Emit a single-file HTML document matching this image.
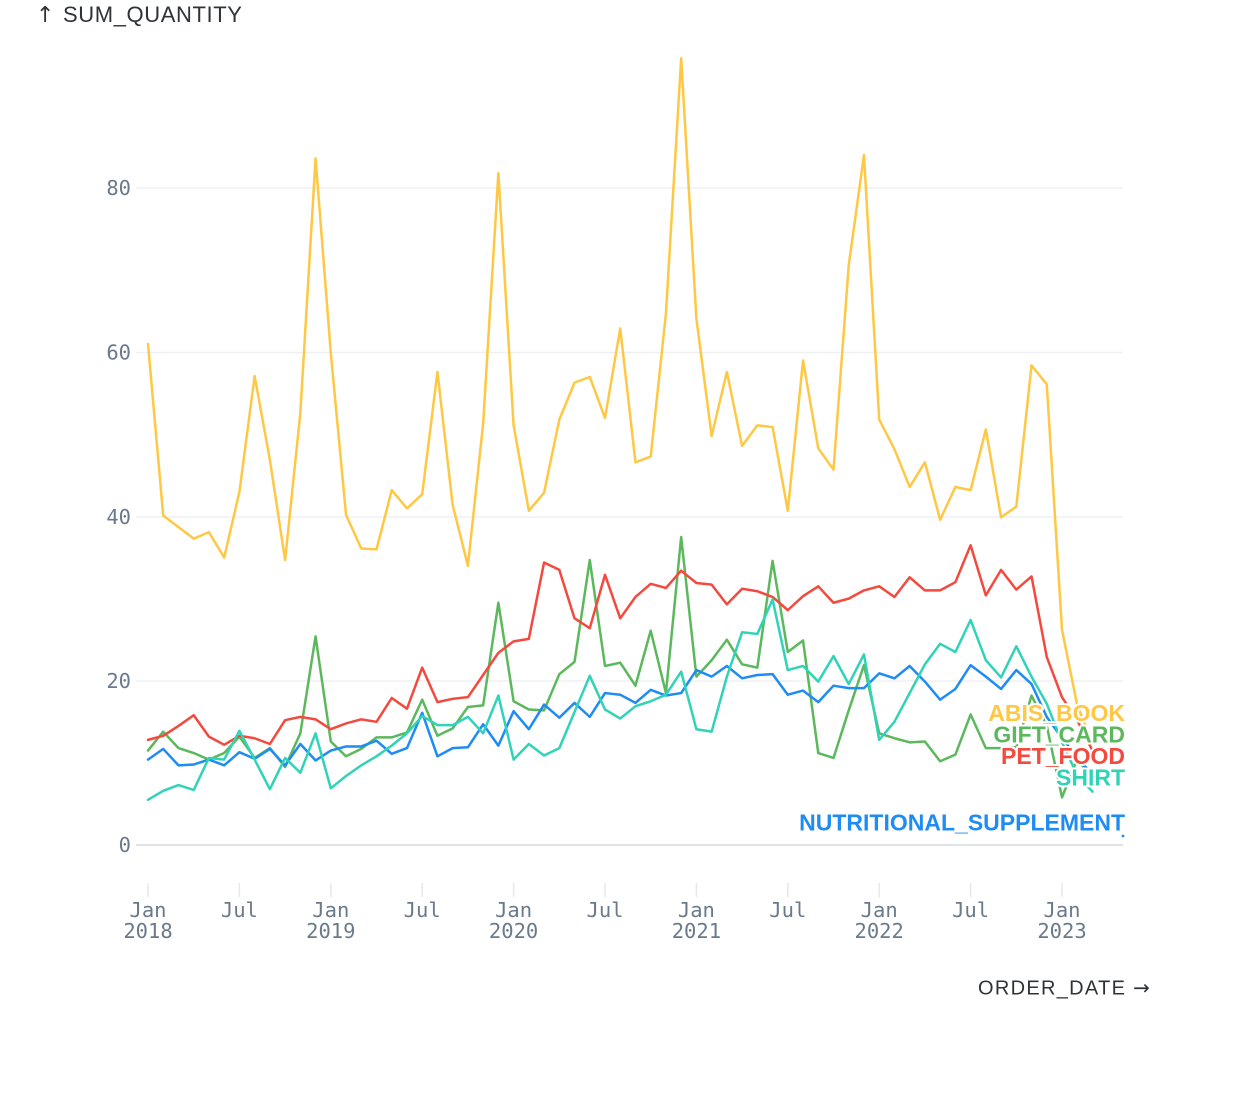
<!DOCTYPE html>
<html>
<head>
<meta charset="utf-8">
<style>
  html, body { margin: 0; padding: 0; background: #ffffff; }
  body { width: 1258px; height: 1103px; overflow: hidden; }
  svg { display: block; }
  .tick { font-family: "DejaVu Sans Mono", "Liberation Mono", monospace; font-size: 20.5px; fill: #6a7a8c; }
  .title { font-family: "Liberation Sans", sans-serif; fill: #2f3337; }
  .arr { font-family: "DejaVu Sans", sans-serif; }
  .lab { font-family: "Liberation Sans", sans-serif; font-weight: bold; font-size: 23px; text-anchor: end;
         stroke: #ffffff; stroke-width: 4; paint-order: stroke; stroke-linejoin: round; }
  .series { fill: none; stroke-width: 2.5; stroke-linejoin: round; stroke-linecap: round; vector-effect: non-scaling-stroke; }
</style>
</head>
<body>
<svg width="1258" height="1103" viewBox="0 0 1258 1103" xmlns="http://www.w3.org/2000/svg">
  <!-- grid -->
  <g stroke="#eef0f2" stroke-width="1.5">
    <line x1="136" y1="188" x2="1123" y2="188"/>
    <line x1="136" y1="352.5" x2="1123" y2="352.5"/>
    <line x1="136" y1="517" x2="1123" y2="517"/>
    <line x1="136" y1="681" x2="1123" y2="681"/>
  </g>
  <line x1="136" y1="845" x2="1123" y2="845" stroke="#dfe2e6" stroke-width="2"/>

  <!-- y tick labels -->
  <g class="tick" text-anchor="end">
    <text x="131" y="195">80</text>
    <text x="131" y="359.5">60</text>
    <text x="131" y="524">40</text>
    <text x="131" y="688">20</text>
    <text x="131" y="852">0</text>
  </g>

  <!-- x ticks -->
  <g stroke="#e6e8eb" stroke-width="1.5">
    <line x1="148" y1="883" x2="148" y2="897"/>
    <line x1="239.4" y1="883" x2="239.4" y2="897"/>
    <line x1="330.8" y1="883" x2="330.8" y2="897"/>
    <line x1="422.2" y1="883" x2="422.2" y2="897"/>
    <line x1="513.6" y1="883" x2="513.6" y2="897"/>
    <line x1="605" y1="883" x2="605" y2="897"/>
    <line x1="696.4" y1="883" x2="696.4" y2="897"/>
    <line x1="787.8" y1="883" x2="787.8" y2="897"/>
    <line x1="879.2" y1="883" x2="879.2" y2="897"/>
    <line x1="970.6" y1="883" x2="970.6" y2="897"/>
    <line x1="1062" y1="883" x2="1062" y2="897"/>
  </g>
  <g class="tick" text-anchor="middle">
    <text x="148" y="917">Jan</text><text x="148" y="938">2018</text>
    <text x="239.4" y="917">Jul</text>
    <text x="330.8" y="917">Jan</text><text x="330.8" y="938">2019</text>
    <text x="422.2" y="917">Jul</text>
    <text x="513.6" y="917">Jan</text><text x="513.6" y="938">2020</text>
    <text x="605" y="917">Jul</text>
    <text x="696.4" y="917">Jan</text><text x="696.4" y="938">2021</text>
    <text x="787.8" y="917">Jul</text>
    <text x="879.2" y="917">Jan</text><text x="879.2" y="938">2022</text>
    <text x="970.6" y="917">Jul</text>
    <text x="1062" y="917">Jan</text><text x="1062" y="938">2023</text>
  </g>

  <!-- axis titles -->
  <text class="title" x="36" y="22" font-size="22"><tspan class="arr">↑</tspan><tspan x="63" letter-spacing="0.6">SUM_QUANTITY</tspan></text>
  <text class="title" x="978" y="994.5" font-size="20" letter-spacing="1.3">ORDER_DATE <tspan class="arr" letter-spacing="0">→</tspan></text>

  <!-- series -->
  <g transform="translate(148,845) scale(15.2333,-8.2125)">
    <polyline class="series" stroke="#ffc844" points="0,61.0 1,40.1 2,38.7 3,37.3 4,38.1 5,35.0 6,43.0 7,57.1 8,46.9 9,34.7 10,52.6 11,83.6 12,59.9 13,40.2 14,36.1 15,36.0 16,43.2 17,41.0 18,42.7 19,57.6 20,41.4 21,34.0 22,51.3 23,81.8 24,51.1 25,40.7 26,42.9 27,51.8 28,56.3 29,57.0 30,52.0 31,62.9 32,46.6 33,47.3 34,64.7 35,95.8 36,64.1 37,49.8 38,57.6 39,48.6 40,51.1 41,50.9 42,40.7 43,59.0 44,48.3 45,45.7 46,70.6 47,84.0 48,51.8 49,48.2 50,43.6 51,46.6 52,39.6 53,43.6 54,43.2 55,50.6 56,39.9 57,41.2 58,58.4 59,56.1 60,26.2 61,17.0 62,12.5"/>
    <polyline class="series" stroke="#5cb85c" points="0,11.5 1,13.8 2,11.8 3,11.2 4,10.4 5,11.2 6,13.2 7,10.6 8,11.8 9,9.5 10,13.6 11,25.4 12,12.6 13,10.8 14,11.7 15,13.1 16,13.1 17,13.7 18,17.7 19,13.3 20,14.2 21,16.8 22,17.0 23,29.5 24,17.5 25,16.5 26,16.4 27,20.8 28,22.3 29,34.7 30,21.8 31,22.2 32,19.4 33,26.1 34,18.5 35,37.5 36,20.5 37,22.5 38,25.0 39,22.0 40,21.6 41,34.6 42,23.5 43,24.9 44,11.2 45,10.6 46,16.4 47,21.9 48,13.6 49,13.0 50,12.5 51,12.6 52,10.2 53,11.0 54,15.9 55,11.8 56,11.8 57,11.9 58,18.2 59,14.5 60,5.8 61,10.5 62,8.0"/>
    <polyline class="series" stroke="#1e8cf4" points="0,10.4 1,11.7 2,9.7 3,9.8 4,10.4 5,9.7 6,11.3 7,10.5 8,11.7 9,9.7 10,12.3 11,10.3 12,11.5 13,12.0 14,12.0 15,12.7 16,11.1 17,11.8 18,16.1 19,10.8 20,11.8 21,11.9 22,14.7 23,12.1 24,16.3 25,14.1 26,17.1 27,15.5 28,17.3 29,15.6 30,18.5 31,18.3 32,17.3 33,18.9 34,18.2 35,18.5 36,21.3 37,20.5 38,21.8 39,20.3 40,20.7 41,20.8 42,18.3 43,18.8 44,17.4 45,19.4 46,19.1 47,19.1 48,20.9 49,20.3 50,21.8 51,19.9 52,17.7 53,19.0 54,21.9 55,20.5 56,19.0 57,21.3 58,19.6 59,15.6 60,13.0 61,10.7 62,8.5"/>
    <polyline class="series" stroke="#f4493e" points="0,12.8 1,13.3 2,14.5 3,15.8 4,13.2 5,12.2 6,13.3 7,13.0 8,12.3 9,15.2 10,15.6 11,15.3 12,14.1 13,14.8 14,15.3 15,15.0 16,17.9 17,16.6 18,21.6 19,17.4 20,17.8 21,18.0 22,20.7 23,23.4 24,24.8 25,25.1 26,34.4 27,33.5 28,27.6 29,26.4 30,32.9 31,27.6 32,30.2 33,31.8 34,31.3 35,33.4 36,31.9 37,31.7 38,29.3 39,31.2 40,30.9 41,30.2 42,28.6 43,30.3 44,31.5 45,29.5 46,30.0 47,31.0 48,31.5 49,30.2 50,32.6 51,31.0 52,31.0 53,32.0 54,36.5 55,30.4 56,33.5 57,31.1 58,32.7 59,22.9 60,18.0 61,15.2 62,11.5"/>
    <polyline class="series" stroke="#31d3b8" points="0,5.5 1,6.6 2,7.3 3,6.7 4,10.6 5,10.4 6,13.9 7,10.4 8,6.8 9,10.6 10,8.8 11,13.6 12,6.9 13,8.4 14,9.7 15,10.8 16,12.1 17,13.6 18,15.7 19,14.6 20,14.6 21,15.6 22,13.6 23,18.2 24,10.4 25,12.3 26,10.9 27,11.8 28,16.2 29,20.6 30,16.5 31,15.4 32,16.9 33,17.5 34,18.3 35,21.1 36,14.1 37,13.8 38,20.5 39,25.9 40,25.7 41,29.9 42,21.3 43,21.8 44,19.9 45,23.0 46,19.6 47,23.2 48,12.8 49,15.0 50,18.5 51,22.0 52,24.5 53,23.5 54,27.4 55,22.5 56,20.4 57,24.2 58,20.5 59,17.2 60,12.5 61,8.5 62,6.5"/>
  </g>
  <circle cx="1123" cy="836" r="1.4" fill="#1e8cf4"/>

  <!-- series labels -->
  <text class="lab" x="1125" y="721" fill="#ffc844">ABIS_BOOK</text>
  <text class="lab" x="1125" y="742.5" fill="#5cb85c">GIFT_CARD</text>
  <text class="lab" x="1125" y="764" fill="#f4493e">PET_FOOD</text>
  <text class="lab" x="1125" y="785.5" fill="#31d3b8">SHIRT</text>
  <text class="lab" x="1125" y="830.5" fill="#1e8cf4">NUTRITIONAL_SUPPLEMENT</text>
</svg>
</body>
</html>
